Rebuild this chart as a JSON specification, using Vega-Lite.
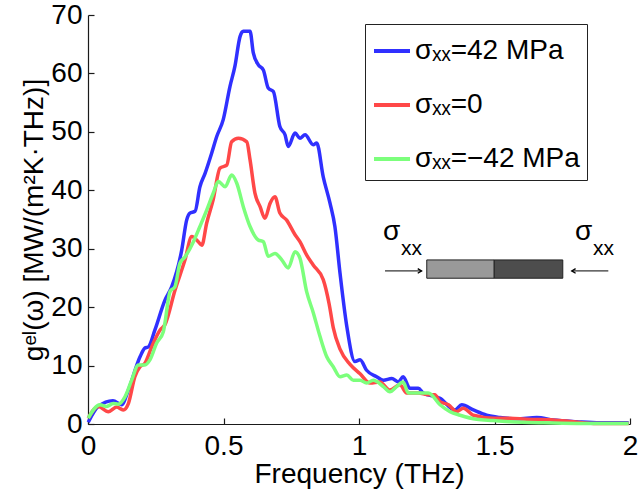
{
  "$schema": "https://vega.github.io/schema/vega-lite/v6.json",
  "width": 542,
  "height": 409,
  "autosize": {"type": "none"},
  "padding": {"left": 88, "top": 15, "right": 11, "bottom": 66},
  "background": "white",
  "config": {
    "view": {"stroke": null},
    "font": "Liberation Sans",
    "axis": {"domain": true, "grid": false, "domainColor": "#1a1a1a", "tickColor": "#1a1a1a", "labelColor": "#000", "titleColor": "#000", "labelFont": "Liberation Sans", "titleFont": "Liberation Sans", "labelFontSize": 28, "titleFontSize": 28, "titleFontWeight": "normal", "tickSize": -6, "domainWidth": 1.2, "tickWidth": 1.2, "labelFlush": false, "labelOverlap": false}
  },
  "datasets": {
    "spec": [
      {"f": 0.001, "g": 0.3, "s": "σₓₓ=42 MPa"}, {"f": 0.038, "g": 3.0, "s": "σₓₓ=42 MPa"}, {"f": 0.092, "g": 4.0, "s": "σₓₓ=42 MPa"}, {"f": 0.124, "g": 3.3, "s": "σₓₓ=42 MPa"}, {"f": 0.149, "g": 5.8, "s": "σₓₓ=42 MPa"}, {"f": 0.192, "g": 11.5, "s": "σₓₓ=42 MPa"}, {"f": 0.21, "g": 13.0, "s": "σₓₓ=42 MPa"}, {"f": 0.223, "g": 13.2, "s": "σₓₓ=42 MPa"}, {"f": 0.247, "g": 16.1, "s": "σₓₓ=42 MPa"}, {"f": 0.284, "g": 21.2, "s": "σₓₓ=42 MPa"}, {"f": 0.309, "g": 23.5, "s": "σₓₓ=42 MPa"}, {"f": 0.346, "g": 29.8, "s": "σₓₓ=42 MPa"}, {"f": 0.364, "g": 34.9, "s": "σₓₓ=42 MPa"}, {"f": 0.376, "g": 36.1, "s": "σₓₓ=42 MPa"}, {"f": 0.395, "g": 36.4, "s": "σₓₓ=42 MPa"}, {"f": 0.413, "g": 40.6, "s": "σₓₓ=42 MPa"}, {"f": 0.432, "g": 42.9, "s": "σₓₓ=42 MPa"}, {"f": 0.456, "g": 46.3, "s": "σₓₓ=42 MPa"}, {"f": 0.475, "g": 49.2, "s": "σₓₓ=42 MPa"}, {"f": 0.499, "g": 52.1, "s": "σₓₓ=42 MPa"}, {"f": 0.524, "g": 57.8, "s": "σₓₓ=42 MPa"}, {"f": 0.542, "g": 61.2, "s": "σₓₓ=42 MPa"}, {"f": 0.561, "g": 66.3, "s": "σₓₓ=42 MPa"}, {"f": 0.573, "g": 67.2, "s": "σₓₓ=42 MPa"}, {"f": 0.598, "g": 67.2, "s": "σₓₓ=42 MPa"}, {"f": 0.61, "g": 63.5, "s": "σₓₓ=42 MPa"}, {"f": 0.628, "g": 61.5, "s": "σₓₓ=42 MPa"}, {"f": 0.647, "g": 60.6, "s": "σₓₓ=42 MPa"}, {"f": 0.665, "g": 57.5, "s": "σₓₓ=42 MPa"}, {"f": 0.684, "g": 56.9, "s": "σₓₓ=42 MPa"}, {"f": 0.708, "g": 50.9, "s": "σₓₓ=42 MPa"}, {"f": 0.727, "g": 49.5, "s": "σₓₓ=42 MPa"}, {"f": 0.739, "g": 47.5, "s": "σₓₓ=42 MPa"}, {"f": 0.764, "g": 49.8, "s": "σₓₓ=42 MPa"}, {"f": 0.782, "g": 48.9, "s": "σₓₓ=42 MPa"}, {"f": 0.801, "g": 49.5, "s": "σₓₓ=42 MPa"}, {"f": 0.831, "g": 47.8, "s": "σₓₓ=42 MPa"}, {"f": 0.844, "g": 48.1, "s": "σₓₓ=42 MPa"}, {"f": 0.868, "g": 42.3, "s": "σₓₓ=42 MPa"}, {"f": 0.893, "g": 37.8, "s": "σₓₓ=42 MPa"}, {"f": 0.911, "g": 33.8, "s": "σₓₓ=42 MPa"}, {"f": 0.93, "g": 25.8, "s": "σₓₓ=42 MPa"}, {"f": 0.955, "g": 16.7, "s": "σₓₓ=42 MPa"}, {"f": 0.985, "g": 10.7, "s": "σₓₓ=42 MPa"}, {"f": 1.004, "g": 11.0, "s": "σₓₓ=42 MPa"}, {"f": 1.028, "g": 9.2, "s": "σₓₓ=42 MPa"}, {"f": 1.065, "g": 8.1, "s": "σₓₓ=42 MPa"}, {"f": 1.09, "g": 7.5, "s": "σₓₓ=42 MPa"}, {"f": 1.121, "g": 7.8, "s": "σₓₓ=42 MPa"}, {"f": 1.145, "g": 7.2, "s": "σₓₓ=42 MPa"}, {"f": 1.163, "g": 8.1, "s": "σₓₓ=42 MPa"}, {"f": 1.188, "g": 6.1, "s": "σₓₓ=42 MPa"}, {"f": 1.219, "g": 6.1, "s": "σₓₓ=42 MPa"}, {"f": 1.237, "g": 5.3, "s": "σₓₓ=42 MPa"}, {"f": 1.299, "g": 4.4, "s": "σₓₓ=42 MPa"}, {"f": 1.354, "g": 2.4, "s": "σₓₓ=42 MPa"}, {"f": 1.379, "g": 3.3, "s": "σₓₓ=42 MPa"}, {"f": 1.422, "g": 2.4, "s": "σₓₓ=42 MPa"}, {"f": 1.471, "g": 1.5, "s": "σₓₓ=42 MPa"}, {"f": 1.52, "g": 1.1, "s": "σₓₓ=42 MPa"}, {"f": 1.582, "g": 0.9, "s": "σₓₓ=42 MPa"}, {"f": 1.656, "g": 1.1, "s": "σₓₓ=42 MPa"}, {"f": 1.717, "g": 0.7, "s": "σₓₓ=42 MPa"}, {"f": 1.803, "g": 0.4, "s": "σₓₓ=42 MPa"}, {"f": 1.889, "g": 0.2, "s": "σₓₓ=42 MPa"}, {"f": 1.995, "g": 0.2, "s": "σₓₓ=42 MPa"},
      {"f": 0.001, "g": 1.0, "s": "σₓₓ=0"}, {"f": 0.038, "g": 3.0, "s": "σₓₓ=0"}, {"f": 0.075, "g": 2.1, "s": "σₓₓ=0"}, {"f": 0.106, "g": 2.9, "s": "σₓₓ=0"}, {"f": 0.13, "g": 2.4, "s": "σₓₓ=0"}, {"f": 0.149, "g": 3.5, "s": "σₓₓ=0"}, {"f": 0.173, "g": 8.1, "s": "σₓₓ=0"}, {"f": 0.192, "g": 9.8, "s": "σₓₓ=0"}, {"f": 0.21, "g": 10.4, "s": "σₓₓ=0"}, {"f": 0.235, "g": 13.2, "s": "σₓₓ=0"}, {"f": 0.266, "g": 16.1, "s": "σₓₓ=0"}, {"f": 0.284, "g": 17.0, "s": "σₓₓ=0"}, {"f": 0.321, "g": 22.9, "s": "σₓₓ=0"}, {"f": 0.358, "g": 28.1, "s": "σₓₓ=0"}, {"f": 0.383, "g": 32.1, "s": "σₓₓ=0"}, {"f": 0.407, "g": 31.2, "s": "σₓₓ=0"}, {"f": 0.42, "g": 30.6, "s": "σₓₓ=0"}, {"f": 0.438, "g": 34.4, "s": "σₓₓ=0"}, {"f": 0.462, "g": 38.4, "s": "σₓₓ=0"}, {"f": 0.487, "g": 43.8, "s": "σₓₓ=0"}, {"f": 0.512, "g": 44.3, "s": "σₓₓ=0"}, {"f": 0.53, "g": 48.3, "s": "σₓₓ=0"}, {"f": 0.555, "g": 48.9, "s": "σₓₓ=0"}, {"f": 0.586, "g": 48.3, "s": "σₓₓ=0"}, {"f": 0.598, "g": 45.2, "s": "σₓₓ=0"}, {"f": 0.616, "g": 39.5, "s": "σₓₓ=0"}, {"f": 0.635, "g": 37.2, "s": "σₓₓ=0"}, {"f": 0.653, "g": 35.2, "s": "σₓₓ=0"}, {"f": 0.672, "g": 37.8, "s": "σₓₓ=0"}, {"f": 0.69, "g": 38.9, "s": "σₓₓ=0"}, {"f": 0.708, "g": 36.1, "s": "σₓₓ=0"}, {"f": 0.733, "g": 34.9, "s": "σₓₓ=0"}, {"f": 0.764, "g": 32.4, "s": "σₓₓ=0"}, {"f": 0.782, "g": 31.2, "s": "σₓₓ=0"}, {"f": 0.807, "g": 28.9, "s": "σₓₓ=0"}, {"f": 0.831, "g": 27.2, "s": "σₓₓ=0"}, {"f": 0.868, "g": 24.7, "s": "σₓₓ=0"}, {"f": 0.89, "g": 20.5, "s": "σₓₓ=0"}, {"f": 0.905, "g": 16.5, "s": "σₓₓ=0"}, {"f": 0.93, "g": 12.8, "s": "σₓₓ=0"}, {"f": 0.967, "g": 10.2, "s": "σₓₓ=0"}, {"f": 1.004, "g": 8.6, "s": "σₓₓ=0"}, {"f": 1.041, "g": 7.0, "s": "σₓₓ=0"}, {"f": 1.077, "g": 7.2, "s": "σₓₓ=0"}, {"f": 1.114, "g": 5.8, "s": "σₓₓ=0"}, {"f": 1.151, "g": 6.7, "s": "σₓₓ=0"}, {"f": 1.176, "g": 5.3, "s": "σₓₓ=0"}, {"f": 1.219, "g": 5.3, "s": "σₓₓ=0"}, {"f": 1.256, "g": 5.0, "s": "σₓₓ=0"}, {"f": 1.28, "g": 5.0, "s": "σₓₓ=0"}, {"f": 1.299, "g": 3.8, "s": "σₓₓ=0"}, {"f": 1.33, "g": 3.3, "s": "σₓₓ=0"}, {"f": 1.36, "g": 2.1, "s": "σₓₓ=0"}, {"f": 1.385, "g": 2.7, "s": "σₓₓ=0"}, {"f": 1.422, "g": 1.5, "s": "σₓₓ=0"}, {"f": 1.496, "g": 1.0, "s": "σₓₓ=0"}, {"f": 1.557, "g": 1.0, "s": "σₓₓ=0"}, {"f": 1.619, "g": 0.8, "s": "σₓₓ=0"}, {"f": 1.717, "g": 0.7, "s": "σₓₓ=0"}, {"f": 1.791, "g": 0.4, "s": "σₓₓ=0"}, {"f": 1.865, "g": 0.1, "s": "σₓₓ=0"}, {"f": 1.995, "g": 0.1, "s": "σₓₓ=0"},
      {"f": 0.001, "g": 1.0, "s": "σₓₓ=−42 MPa"}, {"f": 0.044, "g": 3.3, "s": "σₓₓ=−42 MPa"}, {"f": 0.069, "g": 3.0, "s": "σₓₓ=−42 MPa"}, {"f": 0.093, "g": 3.5, "s": "σₓₓ=−42 MPa"}, {"f": 0.111, "g": 3.4, "s": "σₓₓ=−42 MPa"}, {"f": 0.137, "g": 4.7, "s": "σₓₓ=−42 MPa"}, {"f": 0.161, "g": 7.5, "s": "σₓₓ=−42 MPa"}, {"f": 0.186, "g": 10.1, "s": "σₓₓ=−42 MPa"}, {"f": 0.21, "g": 10.1, "s": "σₓₓ=−42 MPa"}, {"f": 0.229, "g": 11.0, "s": "σₓₓ=−42 MPa"}, {"f": 0.253, "g": 13.8, "s": "σₓₓ=−42 MPa"}, {"f": 0.278, "g": 15.8, "s": "σₓₓ=−42 MPa"}, {"f": 0.303, "g": 22.7, "s": "σₓₓ=−42 MPa"}, {"f": 0.321, "g": 23.5, "s": "σₓₓ=−42 MPa"}, {"f": 0.339, "g": 27.5, "s": "σₓₓ=−42 MPa"}, {"f": 0.358, "g": 28.6, "s": "σₓₓ=−42 MPa"}, {"f": 0.389, "g": 31.2, "s": "σₓₓ=−42 MPa"}, {"f": 0.413, "g": 33.8, "s": "σₓₓ=−42 MPa"}, {"f": 0.438, "g": 36.6, "s": "σₓₓ=−42 MPa"}, {"f": 0.462, "g": 39.5, "s": "σₓₓ=−42 MPa"}, {"f": 0.481, "g": 41.5, "s": "σₓₓ=−42 MPa"}, {"f": 0.506, "g": 40.6, "s": "σₓₓ=−42 MPa"}, {"f": 0.53, "g": 42.6, "s": "σₓₓ=−42 MPa"}, {"f": 0.549, "g": 41.2, "s": "σₓₓ=−42 MPa"}, {"f": 0.573, "g": 37.2, "s": "σₓₓ=−42 MPa"}, {"f": 0.598, "g": 33.8, "s": "σₓₓ=−42 MPa"}, {"f": 0.628, "g": 31.5, "s": "σₓₓ=−42 MPa"}, {"f": 0.647, "g": 31.2, "s": "σₓₓ=−42 MPa"}, {"f": 0.665, "g": 28.7, "s": "σₓₓ=−42 MPa"}, {"f": 0.69, "g": 29.2, "s": "σₓₓ=−42 MPa"}, {"f": 0.715, "g": 28.1, "s": "σₓₓ=−42 MPa"}, {"f": 0.739, "g": 26.7, "s": "σₓₓ=−42 MPa"}, {"f": 0.764, "g": 29.5, "s": "σₓₓ=−42 MPa"}, {"f": 0.782, "g": 28.4, "s": "σₓₓ=−42 MPa"}, {"f": 0.807, "g": 22.6, "s": "σₓₓ=−42 MPa"}, {"f": 0.831, "g": 19.1, "s": "σₓₓ=−42 MPa"}, {"f": 0.856, "g": 15.0, "s": "σₓₓ=−42 MPa"}, {"f": 0.881, "g": 11.5, "s": "σₓₓ=−42 MPa"}, {"f": 0.905, "g": 9.8, "s": "σₓₓ=−42 MPa"}, {"f": 0.93, "g": 8.1, "s": "σₓₓ=−42 MPa"}, {"f": 0.955, "g": 8.4, "s": "σₓₓ=−42 MPa"}, {"f": 0.979, "g": 7.5, "s": "σₓₓ=−42 MPa"}, {"f": 1.004, "g": 7.5, "s": "σₓₓ=−42 MPa"}, {"f": 1.028, "g": 7.0, "s": "σₓₓ=−42 MPa"}, {"f": 1.053, "g": 7.5, "s": "σₓₓ=−42 MPa"}, {"f": 1.09, "g": 6.4, "s": "σₓₓ=−42 MPa"}, {"f": 1.114, "g": 5.5, "s": "σₓₓ=−42 MPa"}, {"f": 1.139, "g": 6.4, "s": "σₓₓ=−42 MPa"}, {"f": 1.163, "g": 7.2, "s": "σₓₓ=−42 MPa"}, {"f": 1.182, "g": 5.3, "s": "σₓₓ=−42 MPa"}, {"f": 1.225, "g": 5.3, "s": "σₓₓ=−42 MPa"}, {"f": 1.256, "g": 5.3, "s": "σₓₓ=−42 MPa"}, {"f": 1.299, "g": 3.3, "s": "σₓₓ=−42 MPa"}, {"f": 1.336, "g": 2.1, "s": "σₓₓ=−42 MPa"}, {"f": 1.373, "g": 1.5, "s": "σₓₓ=−42 MPa"}, {"f": 1.434, "g": 0.8, "s": "σₓₓ=−42 MPa"}, {"f": 1.496, "g": 0.6, "s": "σₓₓ=−42 MPa"}, {"f": 1.557, "g": 0.4, "s": "σₓₓ=−42 MPa"}, {"f": 1.68, "g": 0.2, "s": "σₓₓ=−42 MPa"}, {"f": 1.803, "g": 0.1, "s": "σₓₓ=−42 MPa"}, {"f": 1.995, "g": 0.1, "s": "σₓₓ=−42 MPa"}
    ],
    "bars": [
      {"x1": 1.25, "x2": 1.499, "y1": 24.95, "y2": 28.08, "part": "left"},
      {"x1": 1.499, "x2": 1.752, "y1": 24.95, "y2": 28.08, "part": "right"}
    ],
    "arrows": [
      {"xa": 1.096, "xb": 1.231, "y": 26.2, "head": 1.231, "dir": "right"},
      {"xa": 1.785, "xb": 1.92, "y": 26.2, "head": 1.785, "dir": "left"}
    ],
    "labels": [
      {"x": 1.089, "y": 31.5, "sym": "σ", "sub": "xx"},
      {"x": 1.797, "y": 31.5, "sym": "σ", "sub": "xx"}
    ]
  },
  "layer": [
    {
      "data": {"name": "spec"},
      "mark": {"type": "line", "strokeWidth": 3.5, "interpolate": "monotone"},
      "encoding": {
        "x": {"field": "f", "type": "quantitative", "scale": {"domain": [0, 2], "nice": false}, "axis": {"values": [0, 0.5, 1, 1.5, 2], "format": "~g", "title": "Frequency (THz)", "labelPadding": 14, "titlePadding": 0}},
        "y": {"field": "g", "type": "quantitative", "scale": {"domain": [0, 70], "nice": false}, "axis": {"values": [0, 10, 20, 30, 40, 50, 60, 70], "title": "gᵉˡ(ω) [MW/(m²K·THz)]", "labelPadding": 12, "titlePadding": 2}},
        "color": {"field": "s", "type": "nominal", "scale": {"domain": ["σₓₓ=42 MPa", "σₓₓ=0", "σₓₓ=−42 MPa"], "range": ["#3030ff", "#ff4848", "#7cff7c"]},
          "legend": {"title": null, "orient": "none", "legendX": 277, "legendY": 9, "symbolType": "stroke", "symbolSize": 1296, "symbolStrokeWidth": 4, "labelFontSize": 28, "labelFont": "Liberation Sans", "labelColor": "#000", "labelLimit": 400, "strokeColor": "#222", "fillColor": "white", "padding": 7, "rowPadding": 20, "labelOffset": 3}
        },
        "order": {"field": "f", "type": "quantitative"}
      }
    },
    {
      "data": {"name": "bars"},
      "mark": {"type": "rect", "stroke": "#222", "strokeWidth": 1},
      "encoding": {
        "x": {"field": "x1", "type": "quantitative"},
        "x2": {"field": "x2"},
        "y": {"field": "y1", "type": "quantitative"},
        "y2": {"field": "y2"},
        "fill": {"field": "part", "type": "nominal", "scale": {"domain": ["left", "right"], "range": ["#999999", "#4d4d4d"]}, "legend": null}
      }
    },
    {
      "data": {"name": "arrows"},
      "mark": {"type": "rule", "color": "#000", "strokeWidth": 1},
      "encoding": {
        "x": {"field": "xa", "type": "quantitative"},
        "x2": {"field": "xb"},
        "y": {"field": "y", "type": "quantitative"}
      }
    },
    {
      "data": {"name": "arrows"},
      "mark": {"type": "point", "filled": false, "stroke": "#000", "strokeWidth": 1.3, "size": 60, "opacity": 1},
      "encoding": {
        "x": {"field": "head", "type": "quantitative"},
        "y": {"field": "y", "type": "quantitative"},
        "shape": {"field": "dir", "type": "nominal", "scale": {"domain": ["right", "left"], "range": ["M-1,-0.6L0,0L-1,0.6", "M1,-0.6L0,0L1,0.6"]}, "legend": null}
      }
    },
    {
      "data": {"name": "labels"},
      "mark": {"type": "text", "align": "left", "baseline": "alphabetic", "fontSize": 28, "font": "Liberation Sans", "color": "#000"},
      "encoding": {
        "x": {"field": "x", "type": "quantitative"},
        "y": {"field": "y", "type": "quantitative"},
        "text": {"field": "sym"}
      }
    },
    {
      "data": {"name": "labels"},
      "mark": {"type": "text", "align": "left", "baseline": "alphabetic", "fontSize": 21, "font": "Liberation Sans", "color": "#000", "dx": 18, "dy": 15},
      "encoding": {
        "x": {"field": "x", "type": "quantitative"},
        "y": {"field": "y", "type": "quantitative"},
        "text": {"field": "sub"}
      }
    }
  ]
}
